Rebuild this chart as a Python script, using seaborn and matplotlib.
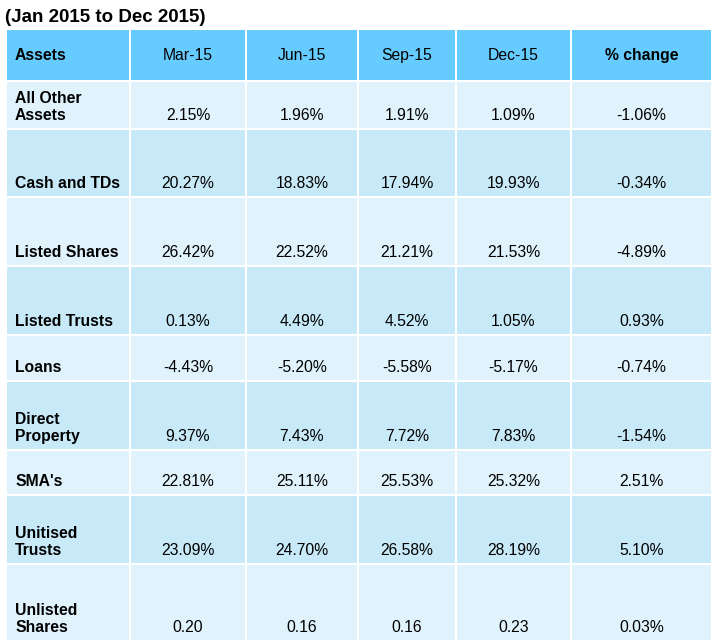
import matplotlib
matplotlib.use("Agg")
import matplotlib.pyplot as plt
from matplotlib.patches import Rectangle
import seaborn as sns

title = "(Jan 2015 to Dec 2015)"
headers = ["Assets", "Mar-15", "Jun-15", "Sep-15", "Dec-15", "% change"]
assets = ["All Other\nAssets", "Cash and TDs", "Listed Shares", "Listed Trusts", "Loans",
          "Direct\nProperty", "SMA's", "Unitised\nTrusts", "Unlisted\nShares"]
mar15 = ["2.15%", "20.27%", "26.42%", "0.13%", "-4.43%", "9.37%", "22.81%", "23.09%", "0.20"]
jun15 = ["1.96%", "18.83%", "22.52%", "4.49%", "-5.20%", "7.43%", "25.11%", "24.70%", "0.16"]
sep15 = ["1.91%", "17.94%", "21.21%", "4.52%", "-5.58%", "7.72%", "25.53%", "26.58%", "0.16"]
dec15 = ["1.09%", "19.93%", "21.53%", "1.05%", "-5.17%", "7.83%", "25.32%", "28.19%", "0.23"]
pct_change = ["-1.06%", "-0.34%", "-4.89%", "0.93%", "-0.74%", "-1.54%", "2.51%", "5.10%", "0.03%"]

sns.set_theme(style="white")
plt.rcParams['font.family'] = ['Liberation Sans', 'DejaVu Sans']
plt.rcParams['text.color'] = 'black'

col_edges = [6, 130, 246, 358, 456, 571, 712]
row_edges = [29, 81, 129, 197, 266, 335, 381, 450, 495, 564, 641]
header_color = "#66CCFF"
row_colors = ["#E0F3FC", "#C8EAF8"]

fig = plt.figure(figsize=(7.19, 6.44), dpi=100)
ax = fig.add_axes([0, 0, 1, 1])
ax.set_xlim(0, 719)
ax.set_ylim(644, 0)
ax.axis("off")

ax.text(5, 17, title, fontsize=13.5, fontweight="bold", va="center", ha="left", color="black")

columns = [assets, mar15, jun15, sep15, dec15, pct_change]
gap = 1
fs = 11.3
for r in range(len(row_edges) - 1):
    y0, y1 = row_edges[r], row_edges[r + 1]
    color = header_color if r == 0 else row_colors[(r - 1) % 2]
    for c in range(len(col_edges) - 1):
        x0, x1 = col_edges[c], col_edges[c + 1]
        ax.add_patch(Rectangle((x0 + gap, y0 + gap), x1 - x0 - 2 * gap, y1 - y0 - 2 * gap,
                               facecolor=color, edgecolor="none"))
        ha = "left" if c == 0 else "center"
        x = x0 + 9 if c == 0 else (x0 + x1) / 2
        if r == 0:
            bold = c in (0, 5)
            ax.text(x, (y0 + y1) / 2, headers[c], fontsize=fs, fontweight="bold" if bold else "normal",
                    ha=ha, va="center", color="black")
        else:
            bold = c == 0
            ax.text(x, y1 - 9, columns[c][r - 1], fontsize=fs, fontweight="bold" if bold else "normal",
                    ha=ha, va="baseline", linespacing=1.2, color="black")

fig.savefig("out.png", dpi=100)
